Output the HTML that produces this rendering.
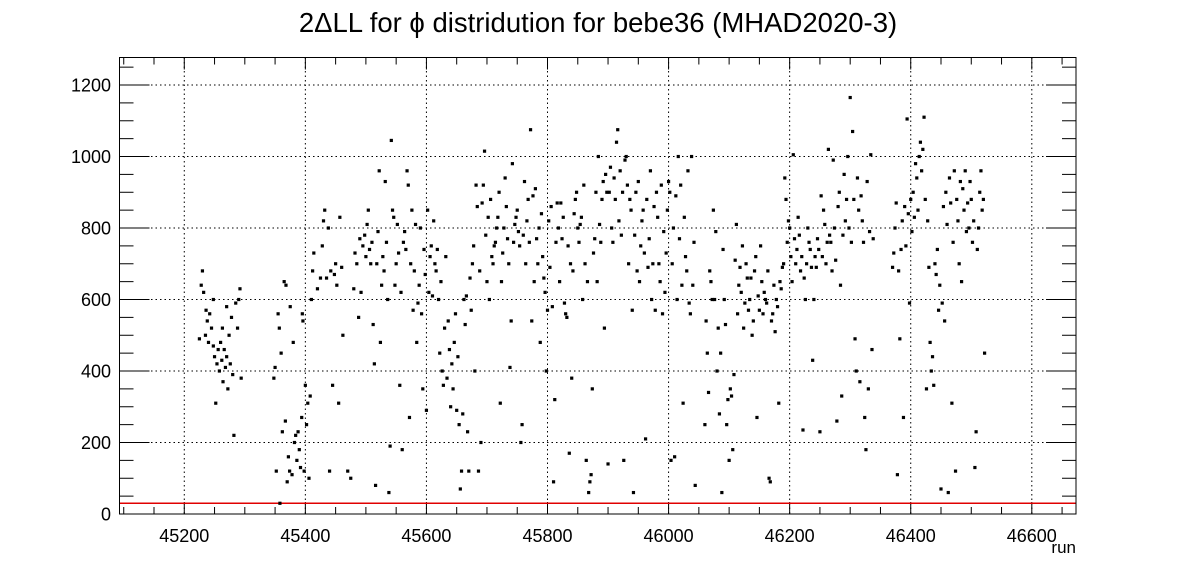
<!DOCTYPE html>
<html><head><meta charset="utf-8"><style>
html,body{margin:0;padding:0;background:#fff;}
svg{display:block;font-family:"Liberation Sans",Arial,sans-serif;}
</style></head><body>
<svg id="chart" width="1196" height="572" viewBox="0 0 1196 572" xmlns="http://www.w3.org/2000/svg">
<rect x="0" y="0" width="1196" height="572" fill="#fff"/>
<text x="598" y="32" font-size="27.5" text-anchor="middle" fill="#000">2ΔLL for ϕ distridution for bebe36 (MHAD2020-3)</text>
<g id="grid"></g>
<g id="ticks"></g>
<line id="thr" stroke="#e00000" stroke-width="1.5"/>
<g id="pts"></g>
<rect x="119.5" y="57.5" width="956.5" height="456.5" fill="none" stroke="#000" stroke-width="1"/>
<text x="1076" y="553" font-size="17" text-anchor="end">run</text>
</svg>
<script>
const xTicks=[45200,45400,45600,45800,46000,46200,46400,46600];
const yTicks=[0,200,400,600,800,1000,1200];
const threshold=[30];
const runs=[];const vals=[];
const pts=[
[45225,490],[45228,640],[45230,680],[45232,620],[45235,500],[45238,540],[45240,480],[45242,560],[45245,520],[45248,470],[45250,440],[45252,310],[45254,420],[45256,460],[45258,400],[45260,480],[45262,430],[45264,370],[45266,460],[45268,410],[45270,440],[45272,350],[45274,500],[45276,420],[45278,550],[45280,390],[45282,220],[45285,590],[45288,520],[45290,600],[45292,630],[45294,380],[45248,600],[45236,570],[45263,520],[45270,580],
[45348,380],[45350,410],[45352,120],[45355,560],[45357,520],[45358,30],[45360,450],[45362,230],[45365,650],[45367,260],[45368,640],[45370,90],[45372,160],[45374,120],[45375,580],[45378,110],[45380,480],[45382,200],[45384,220],[45386,150],[45388,230],[45390,180],[45392,130],[45394,270],[45395,560],[45396,540],[45398,120],[45400,360],[45402,250],[45404,310],[45406,100],[45408,330],[45410,600],[45412,680],[45414,730],
[45420,630],[45425,660],[45428,750],[45430,820],[45432,850],[45435,660],[45438,800],[45440,120],[45442,680],[45445,360],[45448,670],[45450,700],[45452,640],[45455,310],[45457,830],[45460,690],[45462,500],[45470,120],[45475,100],[45480,630],[45482,730],[45485,700],[45488,550],[45490,770],[45492,620],[45495,750],[45498,780],[45500,720],[45502,810],[45504,850],[45506,740],[45508,700],[45510,760],[45512,530],[45514,420],[45516,80],[45518,700],[45520,790],[45522,960],[45524,480],[45526,640],[45528,720],[45530,680],[45532,930],[45534,760],[45536,600],[45538,60],[45540,190],[45542,1045],[45544,850],[45546,830],[45548,640],[45550,700],[45552,810],[45554,730],[45556,360],[45558,620],[45560,180],[45562,760],[45564,790],[45566,740],[45568,960],[45570,920],[45572,270],[45574,700],[45576,850],[45578,570],[45580,680],[45582,810],[45584,480],[45586,590],[45588,640],[45590,800],[45592,560],[45594,350],[45596,740],[45598,670],[45600,290],[45602,850],[45604,620],[45606,720],[45608,750],[45610,610],[45612,820],[45614,700],[45616,680],[45618,740],[45620,600],[45622,450],[45624,650],[45626,400],[45628,360],[45630,520],[45632,720],[45634,380],[45636,540],[45638,460],[45640,300],[45642,420],[45644,350],[45646,480],[45648,560],[45650,290],[45652,440],[45654,250],[45656,70],[45658,120],[45660,280],[45662,600],[45664,530],[45666,610],[45668,230],[45670,120],[45672,660],[45674,570],[45676,700],[45678,750],[45680,400],[45682,920],[45684,860],[45686,120],[45688,680],[45690,200],[45692,870],[45694,920],[45696,1015],[45698,780],[45700,650],[45702,830],[45704,600],[45706,880],[45708,720],[45710,700],[45712,750],[45714,760],[45716,800],[45718,830],[45720,900],[45722,310],[45724,650],[45726,730],[45728,800],[45730,940],[45732,860],[45734,770],[45736,700],[45738,410],[45740,540],[45742,980],[45744,760],[45746,810],[45748,830],[45750,850],[45752,790],[45754,750],[45756,200],[45758,250],[45760,780],[45762,930],[45764,700],[45766,820],[45768,880],[45770,760],[45772,1075],[45774,540],[45776,890],[45778,650],[45780,910],[45782,770],[45784,700],[45786,800],[45788,480],[45790,840],[45792,720],[45794,660],[45796,620],[45798,400],[45800,570],[45802,820],[45804,690],[45806,860],[45808,580],[45810,90],[45812,320],[45814,760],[45816,870],[45818,800],[45820,650],[45822,870],[45824,770],[45826,830],[45828,590],[45830,560],[45832,550],[45834,750],[45836,170],[45838,700],[45840,380],[45842,680],[45844,840],[45846,880],[45848,900],[45850,800],[45852,760],[45854,810],[45856,830],[45858,600],[45860,920],[45862,700],[45864,150],[45866,650],[45868,60],[45870,90],[45872,110],[45874,350],[45876,730],[45878,770],[45880,900],[45882,650],[45884,1000],[45886,810],[45888,760],[45890,880],[45892,930],[45894,520],[45896,950],[45898,900],[45900,140],[45902,900],[45904,970],[45906,800],[45908,760],[45910,940],[45912,880],[45914,1040],[45916,1075],[45918,820],[45920,960],[45922,780],[45924,900],[45926,150],[45928,990],[45930,1000],[45932,920],[45934,700],[45936,880],[45938,850],[45940,570],[45942,60],[45944,780],[45946,900],[45948,680],[45950,930],[45952,650],[45954,750],[45956,820],[45958,850],[45960,730],[45962,210],[45964,880],[45966,690],[45968,770],[45970,960],[45972,600],[45974,700],[45976,860],[45978,570],[45980,900],[45982,830],[45984,700],[45986,650],[45988,920],[45990,560],[45992,790],[45994,620],[45996,730],[45998,850],[46000,930],[46002,900],[46004,150],[46006,700],[46008,800],[46010,160],[46012,890],[46014,600],[46016,1000],[46018,770],[46020,920],[46022,640],[46024,310],[46026,830],[46028,720],[46030,680],[46032,960],[46034,590],[46036,560],[46038,1000],[46040,640],[46042,760],[46044,80],
[46060,250],[46062,540],[46064,450],[46066,340],[46068,680],[46070,650],[46072,600],[46074,850],[46076,600],[46078,790],[46080,400],[46082,520],[46084,280],[46086,450],[46088,60],[46090,740],[46092,600],[46094,530],[46096,250],[46098,320],[46100,150],[46102,350],[46104,330],[46106,180],[46108,390],[46110,710],[46112,810],[46114,560],[46116,640],[46118,690],[46120,620],[46122,750],[46124,520],[46126,590],[46128,700],[46130,660],[46132,570],[46134,600],[46136,660],[46138,500],[46140,540],[46142,680],[46144,720],[46146,270],[46148,610],[46150,570],[46152,750],[46154,650],[46156,560],[46158,620],[46160,600],[46162,590],[46164,680],[46166,100],[46168,90],[46170,540],[46172,560],[46174,640],[46176,510],[46178,600],[46180,580],[46182,310],[46184,650],[46186,630],[46188,690],[46190,700],[46192,940],[46194,880],[46196,760],[46198,820],[46200,800],[46202,720],[46204,650],[46206,1005],[46208,770],[46210,700],[46212,740],[46214,830],[46216,780],[46218,680],[46220,720],[46222,235],[46224,660],[46226,600],[46228,700],[46230,800],[46232,760],[46234,740],[46236,690],[46238,430],[46240,600],[46242,720],[46244,690],[46246,770],[46248,740],[46250,230],[46252,890],[46254,720],[46256,850],[46258,810],[46260,700],[46262,760],[46264,1020],[46266,780],[46268,760],[46270,680],[46272,990],[46274,800],[46276,710],[46278,260],[46280,860],[46282,900],[46284,640],[46286,330],[46288,780],[46290,950],[46292,820],[46294,880],[46296,1000],[46298,800],[46300,1165],[46302,760],[46304,1070],[46306,880],[46308,490],[46310,400],[46312,940],[46314,850],[46316,370],[46318,890],[46320,820],[46322,760],[46324,270],[46326,180],[46328,930],[46330,350],[46332,790],[46334,1005],[46336,460],[46338,770],
[46370,690],[46372,730],[46374,800],[46376,870],[46378,110],[46380,680],[46382,490],[46384,740],[46386,820],[46388,270],[46390,860],[46392,750],[46394,1105],[46396,840],[46398,590],[46400,880],[46402,790],[46404,900],[46406,830],[46408,980],[46410,940],[46412,850],[46414,1000],[46416,1040],[46418,960],[46420,1020],[46422,1110],[46424,880],[46426,350],[46428,820],[46430,690],[46432,480],[46434,400],[46436,440],[46438,360],[46440,700],[46442,670],[46444,740],[46446,570],[46448,640],[46450,70],[46452,590],[46454,860],[46456,540],[46458,900],[46460,810],[46462,60],[46464,940],[46466,870],[46468,310],[46470,760],[46472,960],[46474,120],[46476,880],[46478,820],[46480,700],[46482,930],[46484,650],[46486,910],[46488,850],[46490,960],[46492,790],[46494,870],[46496,800],[46498,930],[46500,880],[46502,760],[46504,820],[46506,130],[46508,230],[46510,740],[46512,800],[46514,900],[46516,960],[46518,850],[46520,880],[46522,450]
];
pts.forEach(p=>{runs.push(p[0]);vals.push(p[1]);});

const X0=119.5,X1=1076,Y0=514,Y1=57.5;
const xmin=45093,xmax=46673,ymin=0,ymax=1277;
const sx=v=>X0+(v-xmin)/(xmax-xmin)*(X1-X0);
const sy=v=>Y0-(v-ymin)/(ymax-ymin)*(Y0-Y1);
const NS="http://www.w3.org/2000/svg";
function mk(tag,attrs,parent){const e=document.createElementNS(NS,tag);for(const k in attrs)e.setAttribute(k,attrs[k]);parent.appendChild(e);return e;}
const grid=document.getElementById('grid'),tk=document.getElementById('ticks'),pg=document.getElementById('pts');
xTicks.forEach(t=>{const x=sx(t);
  const g=mk('line',{x1:x,x2:x,y1:Y1,y2:Y0,stroke:'#000','stroke-width':1,'stroke-dasharray':'1.5,3'},grid);
  
  
  const l=mk('text',{x:x,y:542,'font-size':18,'text-anchor':'middle'},tk);l.textContent=t;
  
  
});
yTicks.forEach(t=>{const y=sy(t);
  if(t>0){const g=mk('line',{x1:X0,x2:X1,y1:y,y2:y,stroke:'#000','stroke-width':1,'stroke-dasharray':'1.5,3'},grid);
  
  }
  const l=mk('text',{x:111,y:y+6.5,'font-size':18,'text-anchor':'end'},tk);l.textContent=t;
  
  
});
for(let v=45100;v<=46650;v+=50){const x=sx(v);const maj=(v%200===0);const L=maj?12:7;
  mk('line',{x1:x,x2:x,y1:Y0,y2:Y0-L,stroke:'#000','stroke-width':1},tk);
  mk('line',{x1:x,x2:x,y1:Y1,y2:Y1+L,stroke:'#000','stroke-width':1},tk);}
for(let v=0;v<=1250;v+=50){const y=sy(v);const maj=(v%200===0);const L=maj?30:14;
  mk('line',{x1:X0,x2:X0+L,y1:y,y2:y,stroke:'#000','stroke-width':1},tk);
  mk('line',{x1:X1,x2:X1-L,y1:y,y2:y,stroke:'#000','stroke-width':1},tk);}
const thr=document.getElementById('thr');
thr.setAttribute('x1',X0);thr.setAttribute('x2',X1);thr.setAttribute('y1',sy(threshold[0]));thr.setAttribute('y2',sy(threshold[0]));
runs.forEach((r,i)=>{
  const m=mk('rect',{x:sx(r)-1.6,y:sy(vals[i])-1.6,width:3.2,height:3.2,fill:'#000'},pg);
  
  
});
</script>
</body></html>
